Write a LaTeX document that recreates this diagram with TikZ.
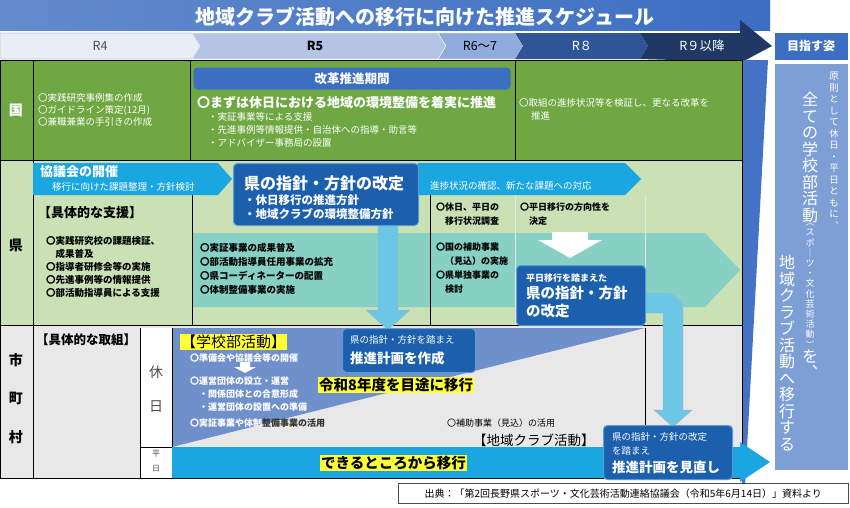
\documentclass[tikz,border=0pt]{standalone}
\usepackage{fontspec}
\setmainfont{Noto Sans CJK JP}
\usetikzlibrary{positioning}
\definecolor{titleblue}{HTML}{3C6EC1}
\definecolor{kunigreen}{HTML}{6FA842}
\definecolor{kengreen}{HTML}{C9E1B5}
\definecolor{tealband}{HTML}{86D0C4}
\definecolor{cyanarrow}{HTML}{1AA6E0}
\definecolor{boxblue}{HTML}{1B5FAD}
\definecolor{boxedge}{HTML}{5B9BD5}
\definecolor{slabblue}{HTML}{7090CC}
\definecolor{lightgray}{HTML}{E8E8E8}
\definecolor{panelblue}{HTML}{7E9FD6}
\definecolor{pipeblue}{HTML}{6CC6E6}
\definecolor{hdrone}{HTML}{E9EDF5}
\definecolor{hdrtwo}{HTML}{B4C4E4}
\definecolor{hdrthree}{HTML}{8FAADC}
\definecolor{hdrfour}{HTML}{2F5597}
\definecolor{hdrfive}{HTML}{1F3864}
\definecolor{wedgeblue}{HTML}{4472C4}
\definecolor{markyellow}{HTML}{FFFF33}

\tikzset{
  txt/.style={anchor=west, inner sep=0pt, font=\fontsize{9.5}{10}\selectfont},
  wtxt/.style={txt, text=white, font=\fontsize{9.5}{10}\selectfont\bfseries},
  bluebox/.style={draw=boxedge, line width=1pt, fill=boxblue, rounded corners=4pt},
  hilite/.style={fill=markyellow, inner sep=1pt, anchor=west, font=\fontsize{14.5}{15}\selectfont\bfseries},
  vcol/.style={align=center, inner sep=0pt, text=white, anchor=north}
}

\begin{document}
\begin{tikzpicture}[x=1pt,y=-1pt]
\useasboundingbox (0,0) rectangle (850,507);
\fill[white] (0,0) rectangle (850,507);

% title and year header
\shade[left color=titleblue!80!white, right color=titleblue] (0,0) rectangle (770,30);
\node[text=white, font=\fontsize{20}{21}\selectfont\bfseries] (title) at (425,17) {地域クラブ活動への移行に向けた推進スケジュール};
\draw[gray, fill=hdrone] (0,33)--(192,33)--(200,46)--(192,59)--(0,59)--cycle;
\draw[white, fill=hdrtwo] (192,33)--(438,33)--(446,46)--(438,59)--(192,59)--(200,46)--cycle;
\draw[white, fill=hdrthree] (438,33)--(515,33)--(523,46)--(515,59)--(438,59)--(446,46)--cycle;
\fill[hdrfour] (515,33)--(640,33)--(648,46)--(640,59)--(515,59)--(523,46)--cycle;
\fill[hdrfive] (640,33)--(740,33)--(740,20)--(772,46)--(742,62)--(640,59)--(648,46)--cycle;
\fill[wedgeblue] (742,60)--(768,60)--(745,485)--(742,485)--cycle;
\node[font=\fontsize{12.5}{13}\selectfont, text=black!70] (rfour) at (100,46) {R4};
\node[font=\fontsize{12.5}{13}\selectfont\bfseries] (rfive) at (315,46) {R5};
\node[font=\fontsize{12.5}{13}\selectfont] (rsix) at (480,46) {R6～7};
\node[font=\fontsize{12.5}{13}\selectfont, text=white] (reight) at (582,46) {R８};
\node[font=\fontsize{12.5}{13}\selectfont, text=white] (rnine) at (702,46) {R９以降};

% goal panel
\fill[titleblue] (775,33) rectangle (848,60);
\node[text=white, font=\fontsize{12}{13}\selectfont\bfseries] (goal) at (811,46) {目指す姿};
\fill[panelblue] (775,64) rectangle (848,470);
\node[vcol, font=\fontsize{9.5}{11.5}\selectfont] (vone) at (834,72) {原\\則\\と\\し\\て\\休\\日\\・\\平\\日\\と\\も\\に\\︑};
\node[vcol, font=\fontsize{16}{16.5}\selectfont] (vtwo) at (810,92) {全\\て\\の\\学\\校\\部\\活\\動};
\node[vcol, font=\fontsize{9}{10.2}\selectfont, below=1pt of vtwo] (vthree) {︵\\ス\\ポ\\｜\\ツ\\・\\文\\化\\芸\\術\\活\\動\\︶};
\node[vcol, font=\fontsize{16}{16.5}\selectfont, below=1pt of vthree] (vfour) {を\\︑};
\node[vcol, font=\fontsize{16}{16.5}\selectfont] (vfive) at (787,255) {地\\域\\ク\\ラ\\ブ\\活\\動\\へ\\移\\行\\す\\る};

% row backgrounds
\fill[kunigreen] (0,60) rectangle (742,160);
\fill[kengreen] (0,160) rectangle (742,325);
\fill[lightgray] (0,325) rectangle (742,478);
\fill[white] (140,328) rectangle (172,478);
\fill[tealband] (192,233)--(705,233)--(740,270)--(705,307)--(192,307)--cycle;
\fill[slabblue] (172,328)--(645,328)--(172,447)--cycle;
\draw[white!80!gray] (515,195)--(515,325) (645,195)--(645,325);
\draw[black] (0,60) rectangle (742,478);
\draw[black] (33,60)--(33,478) (0,160)--(742,160) (0,325)--(742,325);
\draw[black] (190,60)--(190,160) (515,60)--(515,160);
\draw[black] (192,195)--(192,325) (430,195)--(430,325);
\draw[black] (645,328)--(645,478) (140,328)--(140,478) (172,328)--(172,478) (140,447)--(172,447);

% 国
\node[font=\fontsize{14}{15}\selectfont\bfseries, text=white] (kuni) at (16,110) {国};
\node[txt, text=white] (kunione) at (38,98) {〇実践研究事例集の作成};
\node[txt, text=white] (kunitwo) at (38,110) {〇ガイドライン策定(12月)};
\node[txt, text=white] (kunithree) at (38,122) {〇兼職兼業の手引きの作成};
\node[bluebox, draw=none, fill=titleblue, minimum width=317pt, minimum height=22pt, anchor=north west, text=white, font=\fontsize{12.5}{13}\selectfont\bfseries] (kaikaku) at (193,67) {改革推進期間};
\node[txt, text=white, font=\fontsize{13}{14}\selectfont\bfseries] (mazu) at (197,103) {〇まずは休日における地域の環境整備を着実に推進};
\node[txt, text=white] (jisho) at (208,117) {・実証事業等による支援};
\node[txt, text=white] (senshin) at (208,130) {・先進事例等情報提供・自治体への指導・助言等};
\node[txt, text=white] (adviser) at (208,143) {・アドバイザー事務局の設置};
\node[txt, text=white] (torikumi) at (519,103) {〇取組の進捗状況等を検証し、更なる改革を};
\node[txt, text=white] (suishin) at (531,116) {推進};

% 県
\node[font=\fontsize{14}{15}\selectfont\bfseries] (ken) at (16,245) {県};
\fill[cyanarrow] (33,163)--(218,163)--(232,179)--(218,195)--(33,195)--cycle;
\fill[cyanarrow] (418,163)--(625,163)--(641,179)--(625,195)--(418,195)--cycle;
\node[txt, text=white, font=\fontsize{13}{14}\selectfont\bfseries] (kyogi) at (40,172) {協議会の開催};
\node[txt, text=white] (ikou) at (52,187) {移行に向けた課題整理・方針検討};
\node[txt, text=white] (shinchoku) at (430,186) {進捗状況の確認、新たな課題への対応};
\node[txt, font=\fontsize{13}{14}\selectfont\bfseries] (shien) at (38,213) {【具体的な支援】};
\node[txt, anchor=north west, align=left, font=\fontsize{9.5}{13}\selectfont\bfseries] (shienlist) at (46,236) {〇実践研究校の課題検証、\\\quad 成果普及\\〇指導者研修会等の実施\\〇先進事例等の情報提供\\〇部活動指導員による支援};
\node[txt, anchor=north west, align=left, font=\fontsize{9.5}{14}\selectfont\bfseries] (jishulist) at (200,243) {〇実証事業の成果普及\\〇部活動指導員任用事業の拡充\\〇県コーディネーターの配置\\〇体制整備事業の実施};
\node[txt, anchor=north west, align=left, font=\fontsize{9}{14}\selectfont\bfseries] (chosa) at (436,203) {〇休日、平日の\\\quad 移行状況調査};
\node[txt, anchor=north west, align=left, font=\fontsize{9}{14}\selectfont\bfseries] (hojo) at (436,243) {〇国の補助事業\\\quad （見込）の実施\\〇県単独事業の\\\quad 検討};
\node[txt, anchor=north west, align=left, font=\fontsize{9}{14}\selectfont\bfseries] (hoko) at (520,203) {〇平日移行の方向性を\\\quad 決定};
\fill[white] (552,232)--(588,232)--(588,240)--(602,240)--(570,258)--(538,240)--(552,240)--cycle;
\fill[pipeblue, draw=gray!60] (378,225)--(398,225)--(398,310)--(410,310)--(388,330)--(366,310)--(378,310)--cycle;
\node[bluebox, minimum width=185pt, minimum height=62pt, anchor=north west] (kaitei) at (233,163) {};
\node[wtxt, font=\fontsize{16}{17}\selectfont\bfseries] (kaiteititle) at (244,183) {県の指針・方針の改定};
\node[wtxt, font=\fontsize{11.5}{12}\selectfont\bfseries] (kyujitsu) at (244,200) {・休日移行の推進方針};
\node[wtxt, font=\fontsize{11.5}{12}\selectfont\bfseries] (kankyo) at (244,214) {・地域クラブの環境整備方針};
\fill[pipeblue, draw=gray!60] (640,293)--(665,293) arc[start angle=90, end angle=0, radius=18pt] --(683,410)--(692,410)--(673,427)--(654,410)--(663,410)--(663,313)--(640,313)--cycle;
\node[bluebox, minimum width=129pt, minimum height=60pt, anchor=north west] (heijitsu) at (516,265) {};
\node[wtxt, font=\fontsize{9}{10}\selectfont\bfseries] (heijitsutop) at (526,278) {平日移行を踏まえた};
\node[wtxt, anchor=north west, align=left, font=\fontsize{14.5}{18}\selectfont\bfseries] (heijitsumain) at (526,286) {県の指針・方針\\の改定};

% 市町村
\node[font=\fontsize{14}{15}\selectfont\bfseries] (shi) at (16,360) {市};
\node[font=\fontsize{14}{15}\selectfont\bfseries] (cho) at (16,398) {町};
\node[font=\fontsize{14}{15}\selectfont\bfseries] (son) at (16,437) {村};
\node[txt, font=\fontsize{12.5}{13}\selectfont\bfseries] (gutai) at (36,340) {【具体的な取組】};
\node[font=\fontsize{14}{15}\selectfont, text=black!70] (kyu) at (156,372) {休};
\node[font=\fontsize{14}{15}\selectfont, text=black!70] (nichi) at (156,407) {日};
\node[font=\fontsize{8}{8}\selectfont, text=black!70] (hei) at (156,454) {平};
\node[font=\fontsize{8}{8}\selectfont, text=black!70] (bi) at (156,469) {日};
\node[hilite, font=\fontsize{15}{16}\selectfont] (gakko) at (180,342) {【学校部活動】};
\node[txt, text=white, font=\fontsize{9}{10}\selectfont\bfseries] (junbi) at (190,358) {〇準備会や協議会等の開催};
\fill[white] (240,362)--(250,362)--(250,367)--(256,367)--(245,373)--(234,367)--(240,367)--cycle;
\node[txt, text=white, anchor=north west, align=left, font=\fontsize{9}{13}\selectfont\bfseries] (unei) at (190,377) {〇運営団体の設立・運営\\\quad ・関係団体との合意形成\\\quad ・運営団体の設置への準備};
\node[txt, font=\fontsize{9}{10}\selectfont\bfseries, text=black!80] (katsuyo) at (190,423) {\textcolor{white}{〇実証事業や体制}整備事業の活用};
\node[hilite] (reiwa) at (318,385) {令和8年度を目途に移行};
\node[bluebox, minimum width=133pt, minimum height=44pt, anchor=north west] (sakusei) at (342,328) {};
\node[wtxt, font=\fontsize{9.5}{10}\selectfont] (sakuseitop) at (350,340) {県の指針・方針を踏まえ};
\node[wtxt, font=\fontsize{13.5}{14}\selectfont\bfseries] (sakuseimain) at (350,358) {推進計画を作成};
\node[txt, font=\fontsize{9}{10}\selectfont] (hojokatsuyo) at (447,423) {〇補助事業（見込）の活用};
\node[txt, font=\fontsize{13.5}{14}\selectfont] (chiiki) at (473,440) {【地域クラブ活動】};
\fill[cyanarrow] (172,447)--(740,447)--(740,442)--(770,462)--(740,482)--(740,478)--(172,478)--cycle;
\node[hilite] (dekiru) at (320,463) {できるところから移行};
\node[bluebox, minimum width=129pt, minimum height=54pt, anchor=north west] (minaoshi) at (603,425) {};
\node[wtxt, font=\fontsize{9.5}{10}\selectfont] (minaoshione) at (612,437) {県の指針・方針の改定};
\node[wtxt, font=\fontsize{9.5}{10}\selectfont] (minaoshitwo) at (612,451) {を踏まえ};
\node[wtxt, font=\fontsize{13.5}{14}\selectfont\bfseries] (minaoshimain) at (612,467) {推進計画を見直し};

% source
\node[draw=black!70, fill=white, minimum width=450pt, minimum height=20pt, anchor=north west, font=\fontsize{10}{11}\selectfont] (source) at (398,483) {出典：「第2回長野県スポーツ・文化芸術活動連絡協議会（令和5年6月14日）」資料より};
\end{tikzpicture}
\end{document}
